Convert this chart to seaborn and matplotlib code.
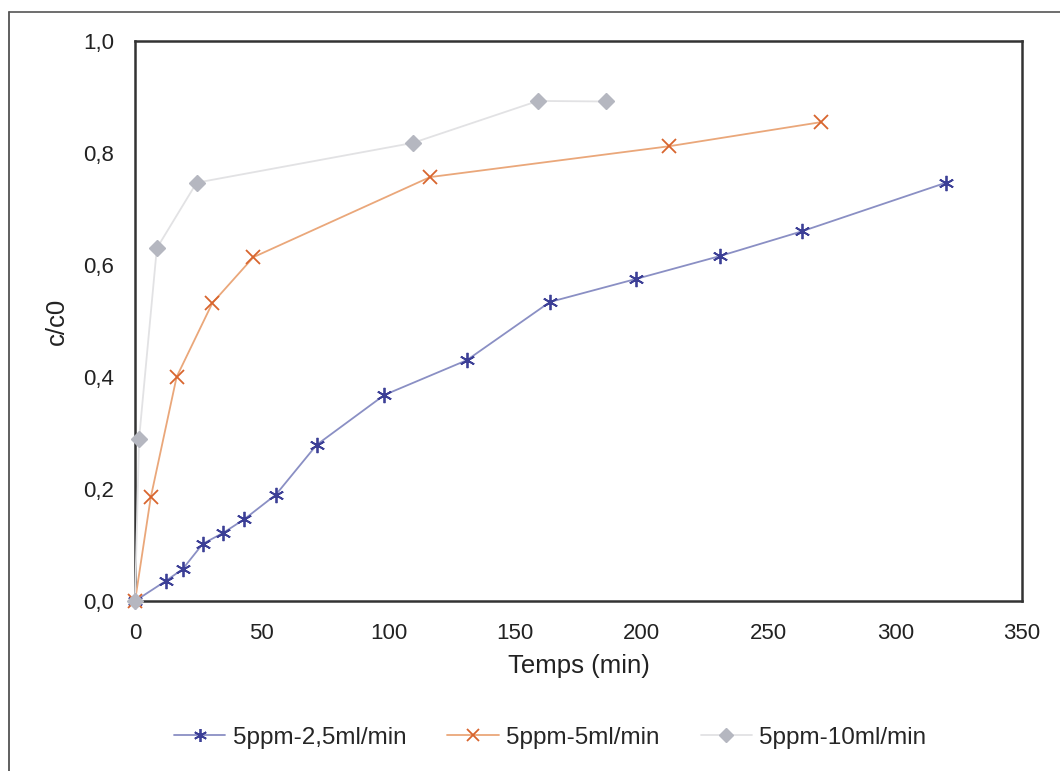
import pandas as pd
import matplotlib.pyplot as plt
import seaborn as sns
from matplotlib.lines import Line2D

# Données
temps_25 = [0, 12.2, 18.8, 26.7, 34.9, 43.1, 55.6, 71.7, 98.4, 130.9, 163.7, 197.6, 230.8, 263.0, 320.0]
cc0_25 = [0.0, 0.036, 0.057, 0.102, 0.122, 0.146, 0.190, 0.279, 0.368, 0.430, 0.534, 0.575, 0.616, 0.660, 0.747]

temps_5 = [0, 6.2, 16.4, 30.5, 46.7, 116.4, 210.6, 270.5]
cc0_5 = [0.0, 0.185, 0.400, 0.532, 0.614, 0.757, 0.812, 0.855]

temps_10 = [0, 1.6, 8.6, 24.3, 109.6, 159.0, 186.0]
cc0_10 = [0.0, 0.290, 0.630, 0.747, 0.818, 0.893, 0.892]

labels = ["5ppm-2,5ml/min", "5ppm-5ml/min", "5ppm-10ml/min"]
x_ticks = [0, 50, 100, 150, 200, 250, 300, 350]
y_ticks = [0.0, 0.2, 0.4, 0.6, 0.8, 1.0]

sns.set_style("white")
plt.rcParams['font.family'] = ['Liberation Sans', 'DejaVu Sans']

fig = plt.figure(figsize=(10.6, 7.71), dpi=100)
ax = fig.add_axes([0.1274, 0.2205, 0.8368, 0.7263])

# style de chaque série : couleur ligne, couleur marqueur, marqueur, taille, épaisseur
styles = [
    ("#8a8fc4", "#3c3f96", (6, 2, 0), 11, 1.3),
    ("#eaa77a", "#d8652e", "x", 10, 1.3),
    ("#e2e2e4", "#b5b7c0", "D", 8.5, 1.0),
]
series = [(temps_25, cc0_25), (temps_5, cc0_5), (temps_10, cc0_10)]

handles = []
for (xs, ys), lab, (lc, mc, mk, ms, mew) in zip(series, labels, styles):
    df = pd.DataFrame({"Temps": xs, "c/c0": ys})
    sns.lineplot(data=df, x="Temps", y="c/c0", ax=ax, color=lc, lw=1.3,
                 marker=mk, markersize=ms, markeredgecolor=mc,
                 markerfacecolor=mc, markeredgewidth=mew, zorder=3, clip_on=False)
    handles.append(Line2D([], [], color=lc, lw=1.3, marker=mk, markersize=ms * 0.85,
                          markeredgecolor=mc, markerfacecolor=mc, markeredgewidth=mew))

ax.set_xlim(0, 350)
ax.set_ylim(0, 1.0)
ax.set_xticks(x_ticks)
ax.set_xticklabels([str(t) for t in x_ticks])
ax.set_yticks(y_ticks)
ax.set_yticklabels([f"{t:.1f}".replace(".", ",") for t in y_ticks])
ax.tick_params(axis="both", direction="out", length=6, width=1.5, colors="#222222",
               labelsize=16, labelcolor="#222222")
ax.tick_params(axis="x", pad=10)
ax.tick_params(axis="y", pad=9)
ax.set_xlabel("Temps (min)", fontsize=18.5, color="#222222", labelpad=7)
ax.set_ylabel("c/c0", fontsize=18.5, color="#222222", labelpad=10)
for sp in ax.spines.values():
    sp.set_visible(True)
    sp.set_linewidth(1.8)
    sp.set_color("#333333")

fig.legend(handles, labels, loc="center", bbox_to_anchor=(0.519, 0.043), ncol=3,
           frameon=False, fontsize=17.5, handlelength=2.1, handletextpad=0.3,
           columnspacing=1.7)

# cadre extérieur (haut et gauche)
fig.add_artist(Line2D([9 / 1060, 9 / 1060], [0, 1 - 12 / 771], transform=fig.transFigure,
                      color="#444444", lw=1.2))
fig.add_artist(Line2D([9 / 1060, 1], [1 - 12 / 771, 1 - 12 / 771], transform=fig.transFigure,
                      color="#555555", lw=1.2))

fig.savefig("out.png", dpi=100)
